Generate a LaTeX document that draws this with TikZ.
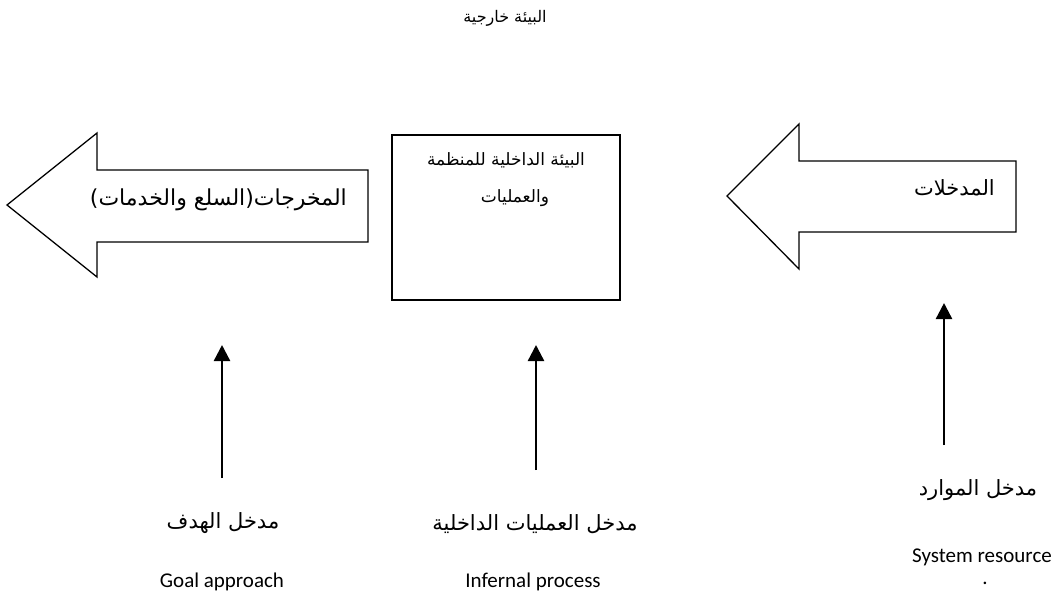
\documentclass[tikz,border=0pt]{standalone}
\usepackage{fontspec}
\setmainfont{Carlito}
\newfontfamily\arabicfont[Script=Arabic]{DejaVu Sans}
\TeXXeTstate=1
\usetikzlibrary{arrows.meta}
\newcommand{\arb}[1]{\arabicfont\beginR #1\endR}
\begin{document}
\begin{tikzpicture}[x=1pt,y=-1pt,
  bigarrow/.style={draw, line width=1.3pt, line join=miter, fill=white},
  panel/.style={draw, line width=1.4pt},
  upline/.style={line width=2.4pt, -{Triangle[width=16pt,length=16pt]}},
  toptext/.style={font=\arabicfont\fontsize{16}{19}\selectfont},
  inner/.style={font=\arabicfont\fontsize{17}{20}\selectfont, inner sep=0pt},
  approach/.style={font=\arabicfont\fontsize{21}{24}\selectfont, inner sep=0pt},
  english/.style={font=\fontsize{21}{24}\selectfont, inner sep=0pt}]
\useasboundingbox (0,0) rectangle (1056,598);

% external environment
\node[toptext] (env) at (505,18) {\arb{البيئة خارجية}};

% outputs arrow
\draw[bigarrow] (7,205) -- (97,133) -- (97,170) -- (368,170) -- (368,242)
  -- (97,242) -- (97,277) -- cycle;
\node[inner, font=\arabicfont\fontsize{22}{25}\selectfont, anchor=east] (outputs)
  at (347,200) {\arb{المخرجات(السلع والخدمات)}};

% organisation box
\draw[panel] (392,135) rectangle (620,300);
\node[inner] (org1) at (506,160) {\arb{البيئة الداخلية للمنظمة}};
\node[inner] (org2) at (515,198) {\arb{والعمليات}};

% inputs arrow
\draw[bigarrow] (727,196) -- (799,124) -- (799,161) -- (1016,161) -- (1016,232)
  -- (799,232) -- (799,269) -- cycle;
\node[inner, font=\arabicfont\fontsize{21}{24}\selectfont, anchor=east] (inputs)
  at (995,188) {\arb{المدخلات}};

% approaches
\node[approach] (goal) at (223,523) {\arb{مدخل الهدف}};
\node[approach] (process) at (535,524) {\arb{مدخل العمليات الداخلية}};
\node[approach] (resource) at (978,490) {\arb{مدخل الموارد}};

\node[english] (goalen) at (222,582) {Goal approach};
\node[english] (processen) at (533,582) {Infernal process};
\node[english, anchor=east] (resourceen) at (1052,557) {System resource};
\node[english] (dot) at (985,583) {.};

% arrows up to the stages
\coordinate (goaltip) at (222,345);
\coordinate (processtip) at (536,345);
\coordinate (resourcetip) at (944,303);
\coordinate (goalfoot) at (222,478);
\coordinate (processfoot) at (536,470);
\coordinate (resourcefoot) at (944,445);
\draw[upline] (goalfoot) -- (goaltip);
\draw[upline] (processfoot) -- (processtip);
\draw[upline] (resourcefoot) -- (resourcetip);
\end{tikzpicture}
\end{document}
